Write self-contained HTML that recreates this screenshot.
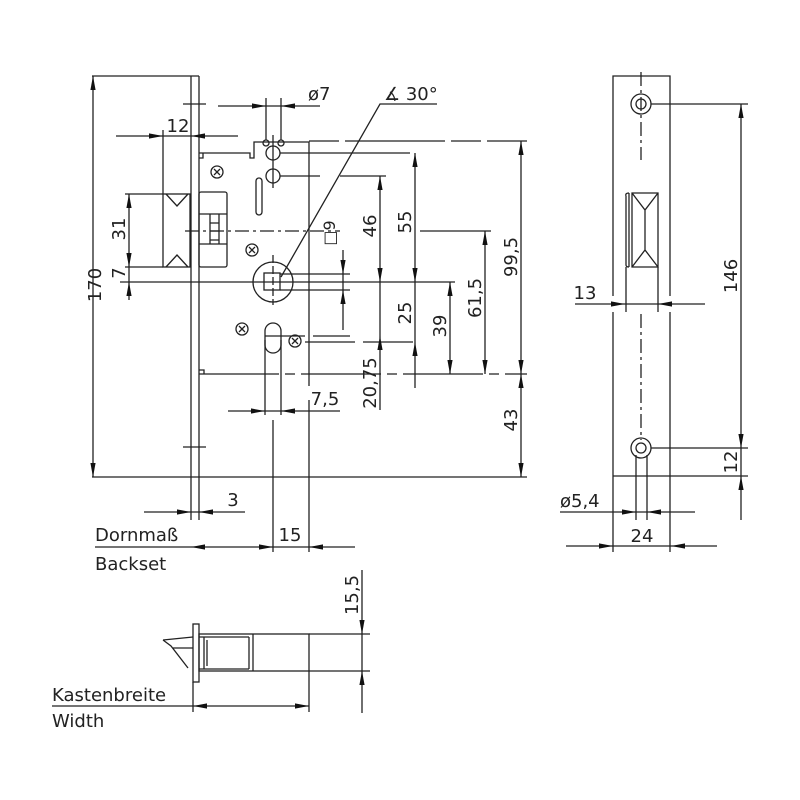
<!DOCTYPE html>
<html><head><meta charset="utf-8"><style>
html,body{margin:0;padding:0;background:#fff}
svg{display:block}
text{font-family:"DejaVu Sans","Liberation Sans",sans-serif;font-size:18px;fill:#222}
</style></head><body>
<svg width="800" height="800" viewBox="0 0 800 800" xmlns="http://www.w3.org/2000/svg">
<g stroke="#222" stroke-width="1.3" fill="none">
<!-- faceplate main -->
<line x1="191" y1="76" x2="191" y2="520"/>
<line x1="199" y1="76" x2="199" y2="520"/>
<line x1="92" y1="76" x2="199" y2="76"/>
<line x1="92" y1="477" x2="527" y2="477"/>
<line x1="183" y1="104" x2="206" y2="104"/>
<line x1="183" y1="447" x2="206" y2="447"/>
<!-- case -->
<path d="M199,153 H250 V158 H254 V142 H309 V386"/>
<path d="M199,158 h4 v-5"/>
<line x1="199" y1="374" x2="527" y2="374" stroke-dasharray="80,6,10,6"/>
<path d="M199,370 h5 v4"/>
<line x1="309" y1="141" x2="527" y2="141" stroke-dasharray="30,6 100,6"/>
<!-- latch left -->
<rect x="163" y="194" width="27" height="73"/>
<path d="M166,194 L177,206 L188,194 M166,267 L177,255 L188,267"/>
<!-- latch box in case -->
<rect x="199" y="192" width="28" height="75" rx="2"/>
<path d="M199,214 H227 M210,214 V244 M219,214 V244 M210,223 H219 M210,231 H219 M210,240 H219 M199,244 H227"/>
<line x1="185" y1="231" x2="340" y2="231" stroke-dasharray="14,4,3,4"/>
<!-- top holes -->
<circle cx="273" cy="153" r="7"/><circle cx="273" cy="176" r="7"/>
<circle cx="266" cy="143" r="3"/><circle cx="281" cy="143" r="3"/>
<line x1="273" y1="135" x2="273" y2="188"/>
<line x1="280" y1="153" x2="420" y2="153" stroke-dasharray="130,20,60"/>
<line x1="280" y1="176" x2="386" y2="176" stroke-dasharray="40,20,50"/>
<rect x="256" y="178" width="6" height="37" rx="3"/>
<!-- screws -->
<circle cx="217" cy="172" r="6"/><path d="M214,169 l6,6 M220,169 l-6,6"/>
<circle cx="252" cy="250" r="6"/><path d="M249,247 l6,6 M255,247 l-6,6"/>
<circle cx="242" cy="329" r="6"/><path d="M239,326 l6,6 M245,326 l-6,6"/>
<circle cx="295" cy="341" r="6"/><path d="M292,338 l6,6 M298,338 l-6,6"/>
<!-- spindle -->
<circle cx="273" cy="282" r="20"/>
<rect x="264" y="273" width="16" height="17"/>
<line x1="273" y1="255" x2="273" y2="305" stroke-dasharray="8,3"/>
<line x1="250" y1="282" x2="455" y2="282"/>
<line x1="280" y1="274" x2="350" y2="274"/>
<line x1="280" y1="290" x2="350" y2="290"/>
<!-- cylinder -->
<rect x="265" y="323" width="16" height="30" rx="8"/>
<line x1="265" y1="340" x2="265" y2="415"/>
<line x1="281" y1="340" x2="281" y2="415"/>
<line x1="265" y1="336" x2="350" y2="336" stroke-dasharray="40,8,40"/>
<line x1="305" y1="342" x2="420" y2="342" stroke-dasharray="50,8,50"/>
<line x1="273" y1="420" x2="273" y2="552"/>
<line x1="309" y1="400" x2="309" y2="552"/>
<path d="M281,277 L380,104 H437"/>
<!-- dims main -->
<line x1="93" y1="76" x2="93" y2="477"/>
<line x1="116" y1="136" x2="238" y2="136"/>
<line x1="163" y1="130" x2="163" y2="194"/>
<line x1="125" y1="194" x2="163" y2="194"/>
<line x1="125" y1="267" x2="163" y2="267"/>
<line x1="120" y1="282" x2="250" y2="282"/>
<line x1="129" y1="194" x2="129" y2="300"/>
<line x1="218" y1="106" x2="320" y2="106"/>
<line x1="266" y1="98" x2="266" y2="140"/><line x1="281" y1="98" x2="281" y2="140"/>
<line x1="228" y1="411" x2="340" y2="411"/>
<line x1="343" y1="250" x2="343" y2="330"/>
<line x1="380" y1="176" x2="380" y2="410"/>
<line x1="415" y1="153" x2="415" y2="388"/>
<line x1="450" y1="282" x2="450" y2="374"/>
<line x1="485" y1="231" x2="485" y2="374"/>
<line x1="420" y1="231" x2="491" y2="231"/>
<line x1="521" y1="141" x2="521" y2="477"/>
<line x1="144" y1="512" x2="245" y2="512"/>
<line x1="95" y1="547" x2="355" y2="547"/>
<!-- bottom view -->
<rect x="193" y="624" width="6" height="58"/>
<rect x="199" y="634" width="110" height="37"/>
<line x1="253" y1="634" x2="253" y2="671"/>
<path d="M249,637 V669 M204,637 V669 M207,640 V666 M199,637 H249 M199,669 H249"/>
<path d="M163,640 L193,637 M163,640 L171,646 L188,668 M173,648 H193"/>
<line x1="309" y1="634" x2="370" y2="634"/>
<line x1="309" y1="671" x2="370" y2="671"/>
<line x1="362" y1="570" x2="362" y2="713"/>
<line x1="193" y1="682" x2="193" y2="712"/>
<line x1="309" y1="671" x2="309" y2="712"/>
<line x1="52" y1="706" x2="309" y2="706"/>
<!-- strike plate -->
<path d="M613,296 V76 H670 V296 M613,312 V552 M670,312 V552"/>
<line x1="613" y1="476" x2="748" y2="476"/>
<circle cx="641" cy="104" r="10"/><circle cx="641" cy="104" r="5"/>
<circle cx="641" cy="448" r="10"/><circle cx="641" cy="448" r="5"/>
<line x1="641" y1="72" x2="641" y2="160" stroke-dasharray="14,4,3,4"/>
<line x1="641" y1="314" x2="641" y2="440" stroke-dasharray="14,4,3,4"/>
<line x1="636" y1="455" x2="636" y2="520"/><line x1="647" y1="455" x2="647" y2="520"/>
<path d="M629,193 V267 M626,196 Q625,193 629,193 M626,196 V265 Q626,267 629,267 M632,193 H658 V267 H632 Z M632,193 L645,210 L658,193 M632,267 L645,250 L658,267 M645,210 V250"/>
<path d="M658,267 V312 M626,267 V312"/>
<line x1="651" y1="104" x2="748" y2="104"/>
<line x1="651" y1="448" x2="748" y2="448"/>
<line x1="741" y1="104" x2="741" y2="520"/>
<line x1="575" y1="304" x2="705" y2="304"/>
<line x1="560" y1="512" x2="695" y2="512"/>
<line x1="566" y1="546" x2="717" y2="546"/>
</g>
<!-- arrowheads -->
<g fill="#111">
<path id="ar" d="M0,0 L-14,-2.6 L-14,2.6Z" transform="translate(93,76) rotate(-90)"/>
<path d="M0,0 L-14,-2.6 L-14,2.6Z" transform="translate(93,477) rotate(90)"/>
<path d="M0,0 L-14,-2.6 L-14,2.6Z" transform="translate(163,136) rotate(0)"/>
<path d="M0,0 L-14,-2.6 L-14,2.6Z" transform="translate(191,136) rotate(180)"/>
<path d="M0,0 L-14,-2.6 L-14,2.6Z" transform="translate(129,194) rotate(-90)"/>
<path d="M0,0 L-14,-2.6 L-14,2.6Z" transform="translate(129,267) rotate(90)"/>
<path d="M0,0 L-14,-2.6 L-14,2.6Z" transform="translate(129,282) rotate(-90)"/>
<path d="M0,0 L-14,-2.6 L-14,2.6Z" transform="translate(266,106) rotate(0)"/>
<path d="M0,0 L-14,-2.6 L-14,2.6Z" transform="translate(281,106) rotate(180)"/>
<path d="M0,0 L-14,-2.6 L-14,2.6Z" transform="translate(265,411) rotate(0)"/>
<path d="M0,0 L-14,-2.6 L-14,2.6Z" transform="translate(281,411) rotate(180)"/>
<path d="M0,0 L-14,-2.6 L-14,2.6Z" transform="translate(343,274) rotate(90)"/>
<path d="M0,0 L-14,-2.6 L-14,2.6Z" transform="translate(343,290) rotate(-90)"/>
<path d="M0,0 L-14,-2.6 L-14,2.6Z" transform="translate(380,176) rotate(-90)"/>
<path d="M0,0 L-14,-2.6 L-14,2.6Z" transform="translate(380,282) rotate(90)"/>
<path d="M0,0 L-14,-2.6 L-14,2.6Z" transform="translate(380,336) rotate(-90)"/>
<path d="M0,0 L-14,-2.6 L-14,2.6Z" transform="translate(415,153) rotate(-90)"/>
<path d="M0,0 L-14,-2.6 L-14,2.6Z" transform="translate(415,282) rotate(90)"/>
<path d="M0,0 L-14,-2.6 L-14,2.6Z" transform="translate(415,342) rotate(-90)"/>
<path d="M0,0 L-14,-2.6 L-14,2.6Z" transform="translate(450,282) rotate(-90)"/>
<path d="M0,0 L-14,-2.6 L-14,2.6Z" transform="translate(450,374) rotate(90)"/>
<path d="M0,0 L-14,-2.6 L-14,2.6Z" transform="translate(485,231) rotate(-90)"/>
<path d="M0,0 L-14,-2.6 L-14,2.6Z" transform="translate(485,374) rotate(90)"/>
<path d="M0,0 L-14,-2.6 L-14,2.6Z" transform="translate(521,141) rotate(-90)"/>
<path d="M0,0 L-14,-2.6 L-14,2.6Z" transform="translate(521,374) rotate(90)"/>
<path d="M0,0 L-14,-2.6 L-14,2.6Z" transform="translate(521,374) rotate(-90)"/>
<path d="M0,0 L-14,-2.6 L-14,2.6Z" transform="translate(521,477) rotate(90)"/>
<path d="M0,0 L-14,-2.6 L-14,2.6Z" transform="translate(191,512) rotate(0)"/>
<path d="M0,0 L-14,-2.6 L-14,2.6Z" transform="translate(199,512) rotate(180)"/>
<path d="M0,0 L-14,-2.6 L-14,2.6Z" transform="translate(191,547) rotate(180)"/>
<path d="M0,0 L-14,-2.6 L-14,2.6Z" transform="translate(273,547) rotate(0)"/>
<path d="M0,0 L-14,-2.6 L-14,2.6Z" transform="translate(309,547) rotate(180)"/>
<path d="M0,0 L-14,-2.6 L-14,2.6Z" transform="translate(362,634) rotate(90)"/>
<path d="M0,0 L-14,-2.6 L-14,2.6Z" transform="translate(362,671) rotate(-90)"/>
<path d="M0,0 L-14,-2.6 L-14,2.6Z" transform="translate(193,706) rotate(180)"/>
<path d="M0,0 L-14,-2.6 L-14,2.6Z" transform="translate(309,706) rotate(0)"/>
<path d="M0,0 L-14,-2.6 L-14,2.6Z" transform="translate(741,104) rotate(-90)"/>
<path d="M0,0 L-14,-2.6 L-14,2.6Z" transform="translate(741,448) rotate(90)"/>
<path d="M0,0 L-14,-2.6 L-14,2.6Z" transform="translate(741,476) rotate(-90)"/>
<path d="M0,0 L-14,-2.6 L-14,2.6Z" transform="translate(625,304) rotate(0)"/>
<path d="M0,0 L-14,-2.6 L-14,2.6Z" transform="translate(658,304) rotate(180)"/>
<path d="M0,0 L-14,-2.6 L-14,2.6Z" transform="translate(636,512) rotate(0)"/>
<path d="M0,0 L-14,-2.6 L-14,2.6Z" transform="translate(647,512) rotate(180)"/>
<path d="M0,0 L-14,-2.6 L-14,2.6Z" transform="translate(613,546) rotate(0)"/>
<path d="M0,0 L-14,-2.6 L-14,2.6Z" transform="translate(671,546) rotate(180)"/>
</g>
<!-- texts -->
<text transform="translate(101,285) rotate(-90)" text-anchor="middle">170</text>
<text x="178" y="132" text-anchor="middle">12</text>
<text transform="translate(125,229) rotate(-90)" text-anchor="middle">31</text>
<text transform="translate(125,273) rotate(-90)" text-anchor="middle">7</text>
<text x="308" y="100">ø7</text>
<text x="384" y="100">∡ 30°</text>
<text transform="translate(335,233) rotate(-90)" text-anchor="middle" style="font-size:16px">□9</text>
<text transform="translate(376,226) rotate(-90)" text-anchor="middle">46</text>
<text transform="translate(411,222) rotate(-90)" text-anchor="middle">55</text>
<text transform="translate(411,313) rotate(-90)" text-anchor="middle">25</text>
<text transform="translate(446,326) rotate(-90)" text-anchor="middle">39</text>
<text transform="translate(481,298) rotate(-90)" text-anchor="middle">61,5</text>
<text transform="translate(517,257) rotate(-90)" text-anchor="middle">99,5</text>
<text transform="translate(376,383) rotate(-90)" text-anchor="middle">20,75</text>
<text x="325" y="405" text-anchor="middle">7,5</text>
<text transform="translate(517,420) rotate(-90)" text-anchor="middle">43</text>
<text x="233" y="506" text-anchor="middle">3</text>
<text x="290" y="541" text-anchor="middle">15</text>
<text x="95" y="541">Dornmaß</text>
<text x="95" y="570">Backset</text>
<text transform="translate(358,595) rotate(-90)" text-anchor="middle">15,5</text>
<text x="52" y="701">Kastenbreite</text>
<text x="52" y="727">Width</text>
<text x="585" y="299" text-anchor="middle">13</text>
<text transform="translate(737,276) rotate(-90)" text-anchor="middle">146</text>
<text transform="translate(737,462) rotate(-90)" text-anchor="middle">12</text>
<text x="560" y="507">ø5,4</text>
<text x="642" y="542" text-anchor="middle">24</text>
</svg>
</body></html>
